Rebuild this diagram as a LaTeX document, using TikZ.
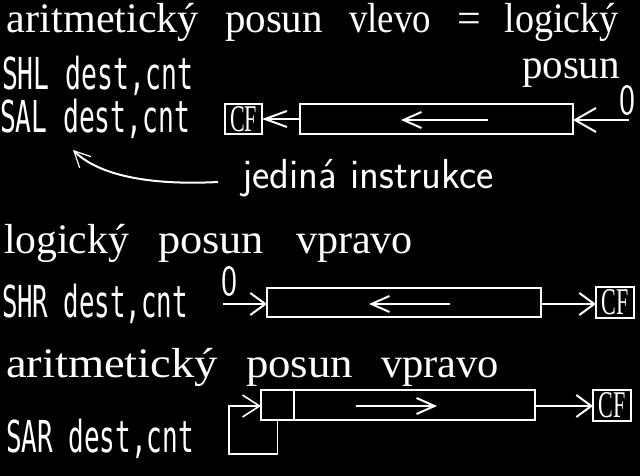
\documentclass[tikz,border=0pt]{standalone}
\usepackage{fontspec}
\setmainfont{Liberation Serif}
\setmonofont{DejaVu Sans Mono}
\usepackage{graphicx}
\usetikzlibrary{arrows.meta}
\newcommand{\fw}[2]{\resizebox{#1pt}{\height}{#2}}
\begin{document}
\begin{tikzpicture}[x=1pt,y=-1pt,
  every node/.style={inner sep=0pt,outer sep=0pt,text=white},
  ttl/.style={anchor=base west,font=\fontsize{42}{42}\selectfont},
  cmd/.style={anchor=base west,font=\ttfamily\fontsize{44}{44}\selectfont},
  reg/.style={draw=white,line width=2pt},
  cfbox/.style={draw=white,line width=2pt,minimum width=37pt,minimum height=30pt},
  wire/.style={draw=white,line width=2pt},
  thinwire/.style={draw=white,line width=1.6pt},
  tipbig/.style={-{Straight Barb[length=15pt,width=22pt]}},
  tipin/.style={-{Straight Barb[length=18pt,width=16pt]}},
  tipcurve/.style={-{Straight Barb[length=16pt,width=16pt,line width=1.2pt]}}
]
\fill[black] (0,0) rectangle (640,476);
\useasboundingbox (0,0) rectangle (640,476);

% ---------- section 1 ----------
\node[ttl] (t1) at (7,33) {\fw{192}{aritmetický}\hspace{26pt}\fw{98}{posun}\hspace{26pt}\fw{82}{vlevo}\hspace{26pt}=\hspace{24pt}\fw{114}{logický}};
\node[anchor=base east,font=\fontsize{42}{42}\selectfont] (t1b) at (620,79) {\fw{98}{posun}};
\node[cmd] (shl) at (2,90) {\fw{191}{SHL dest,cnt}};
\node[cmd] (sal) at (0,133) {\fw{190}{SAL dest,cnt}};
\node[cfbox] (cf1) at (243.5,119) {\resizebox{27pt}{25pt}{CF}};
\node[reg,minimum width=273pt,minimum height=30pt] (box1) at (436.5,119) {};
\draw[wire,-{Straight Barb[length=22pt,width=16pt]}] (box1.west) -- (cf1.east);
\coordinate (z1s) at (629,120);
\draw[wire,-{Straight Barb[length=21pt,width=24pt]}] (z1s) -- (box1.east |- z1s);
\node[font=\sffamily] (zero1) at (627,100.5) {\resizebox{16pt}{29pt}{0}};
\coordinate (i1s) at (488,120);
\coordinate (i1e) at (401,120);
\draw[wire,tipin] (i1s) -- (i1e);
\node[anchor=base west,font=\sffamily\fontsize{42}{42}\selectfont] (jed) at (242,188) {\fw{252}{jediná\hspace{14pt}instrukce}};
\coordinate (cs) at (218,182);
\coordinate (ce) at (73,150);
\draw[wire,tipcurve] (cs) .. controls (140,186) and (95,172) .. (ce);

% ---------- section 2 ----------
\node[ttl] (t2) at (4,253) {\fw{125}{logický}\hspace{29pt}\fw{106}{posun}\hspace{32pt}\fw{117}{vpravo}};
\node[cmd] (shr) at (2,317) {\fw{186}{SHR dest,cnt}};
\node[font=\sffamily] (zero2) at (229.5,281.5) {\resizebox{16pt}{29pt}{0}};
\node[reg,minimum width=274pt,minimum height=29pt] (box2) at (404,302.5) {};
\node[cfbox,minimum width=38pt,minimum height=31pt] (cf2) at (615,302.5) {\resizebox{27pt}{25pt}{CF}};
\coordinate (z2s) at (223,304);
\draw[wire,tipbig] (z2s) -- (box2.west |- z2s);
\draw[wire,tipbig] (box2.east |- z2s) -- (cf2.west |- z2s);
\coordinate (i2s) at (450,304);
\coordinate (i2e) at (369,304);
\draw[wire,tipin] (i2s) -- (i2e);

% ---------- section 3 ----------
\node[ttl] (t3) at (6,377) {\fw{212}{aritmetický}\hspace{28pt}\fw{107}{posun}\hspace{28pt}\fw{118}{vpravo}};
\node[cmd] (sar) at (6,452) {\fw{188}{SAR dest,cnt}};
\node[reg,minimum width=274pt,minimum height=30pt] (box3) at (398,405) {};
\node[draw=white,line width=1.6pt,minimum width=33pt,minimum height=30pt] (cell3) at (277.5,405) {};
\node[cfbox,minimum width=38pt,minimum height=31pt] (cf3) at (612,405.5) {\resizebox{27pt}{25pt}{CF}};
\coordinate (i3s) at (356,406);
\coordinate (i3e) at (437,406);
\draw[wire,tipin] (i3s) -- (i3e);
\draw[wire,tipbig] (box3.east |- i3s) -- (cf3.west |- i3s);
\coordinate (lp) at (229,454);
\draw[thinwire,-{Straight Barb[length=17pt,width=22pt]}] (cell3.south) |- (lp) |- (cell3.west |- i3s);
\end{tikzpicture}
\end{document}
